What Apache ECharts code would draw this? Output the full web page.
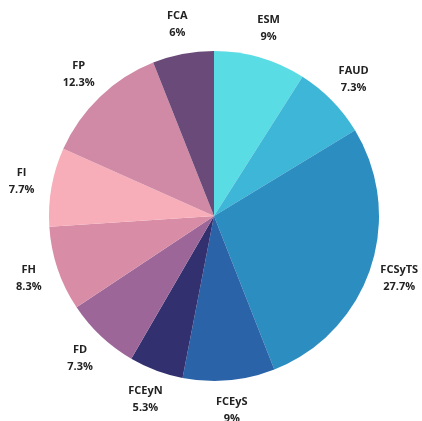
<!DOCTYPE html>
<html>
<head>
<meta charset="utf-8">
<script src="https://cdn.jsdelivr.net/npm/echarts@6/dist/echarts.min.js"></script>
<style>
html,body{margin:0;padding:0;background:#fff;}
#c{width:422px;height:421px;}
</style>
</head>
<body>
<div id="c"></div>
<script>
const categories = ['ESM','FAUD','FCSyTS','FCEyS','FCEyN','FD','FH','FI','FP','FCA'];
const values = [9, 7.3, 27.7, 9, 5.3, 7.3, 8.3, 7.7, 12.3, 6];
const colors = ['#5ADCE4','#3DB6D8','#2B8DC0','#2A63A8','#32306F','#9C6798','#D88CA6','#F8AEB8','#D08AA6','#6A4A78'];

const data = categories.map((n, i) => ({ name: n, value: values[i], itemStyle: { color: colors[i] } }));
const labelData = categories.map((n, i) => ({ name: n, value: values[i] }));

const chart = echarts.init(document.getElementById('c'), null, { renderer: 'canvas' });
chart.setOption({
  animation: false,
  series: [
    {
      type: 'pie',
      center: [214, 216],
      radius: [0, 165],
      startAngle: 90,
      clockwise: true,
      label: { show: false },
      labelLine: { show: false },
      itemStyle: { borderWidth: 0 },
      emphasis: { disabled: true },
      data: data
    },
    {
      type: 'pie',
      center: [214, 216],
      radius: [180, 205],
      startAngle: 90,
      clockwise: true,
      silent: true,
      itemStyle: { color: 'rgba(0,0,0,0)', borderWidth: 0 },
      labelLine: { show: false },
      label: {
        show: true,
        position: 'inside',
        formatter: p => p.name + '\n' + p.value + '%',
        fontFamily: 'Open Sans',
        fontWeight: 'bold',
        fontSize: 11,
        lineHeight: 17,
        color: '#222222',
        align: 'center'
      },
      emphasis: { disabled: true },
      data: labelData
    }
  ]
});
</script>
</body>
</html>
